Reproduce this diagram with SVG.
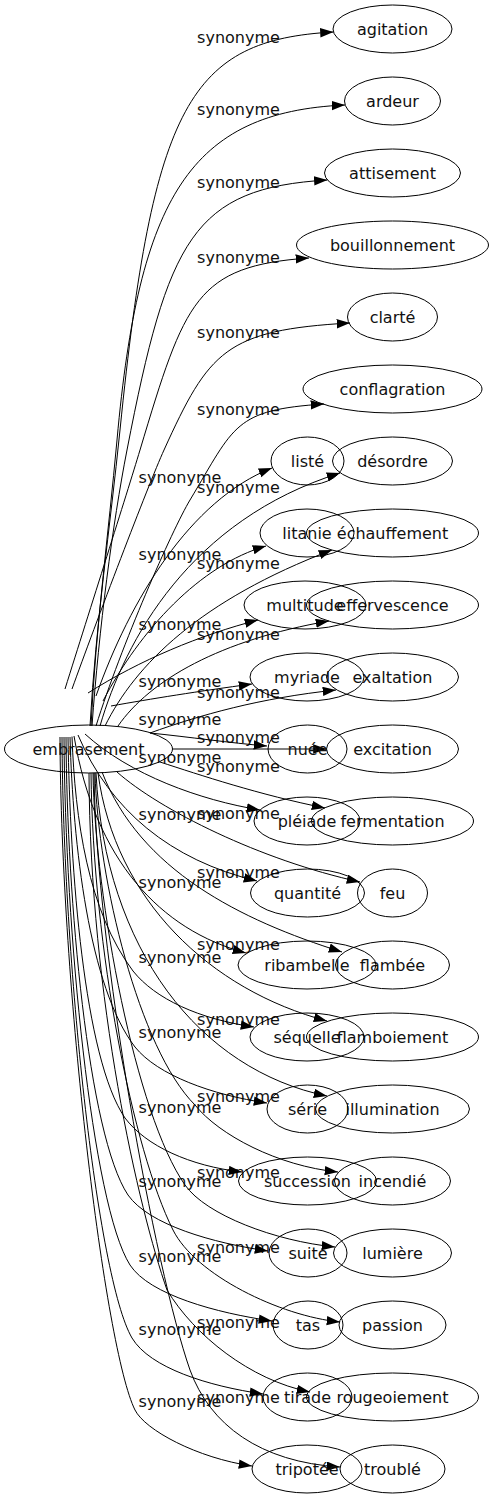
<svg xmlns="http://www.w3.org/2000/svg" width="493" height="1499" viewBox="0 0 493 1499">
<style>
text{font-family:"DejaVu Sans","Liberation Sans",sans-serif;font-size:16px;fill:#111;text-anchor:middle}
.node ellipse{fill:none;stroke:#000;stroke-width:1}
.edge path{fill:none;stroke:#000;stroke-width:1;marker-end:url(#arr)}
</style>
<defs>
<marker id="arr" viewBox="0 0 14 10" refX="13.3" refY="4.67" markerWidth="14" markerHeight="10" markerUnits="userSpaceOnUse" orient="auto"><path d="M0,0 L13.3,4.67 L0,9.33 z" fill="#000"/></marker>
</defs>
<rect width="493" height="1499" fill="#fff"/>
<g id="edges">
<g class="edge" id="e-agitation"><path d="M90,726 C96,622 110,528 120,430 C153,104 190,40 333.5,32"/><text x="238.5" y="43">synonyme</text></g>
<g class="edge" id="e-ardeur"><path d="M91,726 C96,626 108.3,535 117,440 C139,197 190,112 345,105"/><text x="238.5" y="115">synonyme</text></g>
<g class="edge" id="e-attisement"><path d="M92,726 C99,629 112.6,523.6 127,450 C168,239 193,188 327.4,180"/><text x="238.5" y="188">synonyme</text></g>
<g class="edge" id="e-bouillonnement"><path d="M65,689 C89.75,610 126.5,495 140,450 C185,300 196,266 309,258"/><text x="238.5" y="263">synonyme</text></g>
<g class="edge" id="e-clarte"><path d="M72,689 C95,625 148.25,484.65 164,450 C209,351 225.4,330 350,323"/><text x="238.5" y="338">synonyme</text></g>
<g class="edge" id="e-conflagration"><path d="M96,726 C121,646 172,530 190,500 C235,425 234,410 324,404"/><text x="238.5" y="415">synonyme</text></g>
<g class="edge" id="e-desordre"><path d="M100,726 C125,640 190,520 340,473"/><text x="238.5" y="493">synonyme</text></g>
<g class="edge" id="e-echauffement"><path d="M105,726 C135,665 200,600 332,550"/><text x="238.5" y="569">synonyme</text></g>
<g class="edge" id="e-effervescence"><path d="M118,726 C150,680 220,640 329,621"/><text x="238.5" y="640">synonyme</text></g>
<g class="edge" id="e-exaltation"><path d="M150,733 C200,715 260,698 336,690"/><text x="238.5" y="698">synonyme</text></g>
<g class="edge" id="e-excitation"><path d="M172.5,749 L326.5,749"/><text x="238.5" y="743">synonyme</text></g>
<g class="edge" id="e-fermentation"><path d="M160,762 C200,775 260,795 325,808"/><text x="238.5" y="772">synonyme</text></g>
<g class="edge" id="e-feu"><path d="M117,772 C160,810 260,860 360,882"/><text x="238.5" y="819">synonyme</text></g>
<g class="edge" id="e-flambee"><path d="M102,772 C140,870 240,920 342,952"/><text x="238.5" y="878">synonyme</text></g>
<g class="edge" id="e-flamboiement"><path d="M98,773 C115,900 210,990 327,1021"/><text x="238.5" y="950">synonyme</text></g>
<g class="edge" id="e-illumination"><path d="M96,773 C105,950 200,1070 327,1096"/><text x="238.5" y="1025">synonyme</text></g>
<g class="edge" id="e-incendie"><path d="M95,773 C98,880 139,1049 195,1105 C219,1135 278,1166 338,1172"/><text x="238.5" y="1102">synonyme</text></g>
<g class="edge" id="e-lumiere"><path d="M93,773 C95,900 136,1115 185,1185 C206,1215 275,1241 335,1247"/><text x="238.5" y="1178">synonyme</text></g>
<g class="edge" id="e-passion"><path d="M91,773 C93,950 133,1150 173,1230 C195.5,1275 280,1316 340,1322"/><text x="238.5" y="1253">synonyme</text></g>
<g class="edge" id="e-rougeoiement"><path d="M89,773 C90,1000 139,1210 167,1290 C194,1335 250,1380 310,1392"/><text x="238.5" y="1328">synonyme</text></g>
<g class="edge" id="e-trouble"><path d="M94,773 C96,950 155,1270 190,1370 C210,1425 260,1462 340,1467"/><text x="238.5" y="1403">synonyme</text></g>
<g class="edge" id="e-liste"><path d="M96,696 C130,600 190,500 272,468"/><text x="180" y="483">synonyme</text></g>
<g class="edge" id="e-litanie"><path d="M103,701 C140,630 200,565 266,546"/><text x="180" y="560">synonyme</text></g>
<g class="edge" id="e-multitude"><path d="M88,693 C140,660 200,635 258,620"/><text x="180" y="630">synonyme</text></g>
<g class="edge" id="e-myriade"><path d="M111,706 C150,699 200,691 252,684"/><text x="180" y="687">synonyme</text></g>
<g class="edge" id="e-nuee"><path d="M150,733 C190,737 230,743 267,746"/><text x="180" y="725">synonyme</text></g>
<g class="edge" id="e-pleiade"><path d="M85,734 C130,775 200,800 260,810"/><text x="180" y="763">synonyme</text></g>
<g class="edge" id="e-quantite"><path d="M78,735 C110,810 170,860 257,881"/><text x="180" y="820">synonyme</text></g>
<g class="edge" id="e-ribambelle"><path d="M74,736 C95,860 160,930 246,953"/><text x="180" y="888">synonyme</text></g>
<g class="edge" id="e-sequelle"><path d="M72,736.6 C75,819 88,911 133,971 C155.4,999 199,1019 254,1027"/><text x="180" y="963">synonyme</text></g>
<g class="edge" id="e-serie"><path d="M70,737 C73,845 89,987 135,1047 C157.4,1075 212,1095 267,1103"/><text x="180" y="1038">synonyme</text></g>
<g class="edge" id="e-succession"><path d="M68,737 C70,870 84,1058 125,1118 C146,1146 190,1166 242,1172"/><text x="180" y="1113">synonyme</text></g>
<g class="edge" id="e-suite"><path d="M66,737 C67,900 88,1135 128,1195 C149,1225 213,1243 268,1251"/><text x="180" y="1187">synonyme</text></g>
<g class="edge" id="e-tas"><path d="M64,737 C65,930 92,1205 130,1265 C149.5,1295 217,1313 272,1321"/><text x="180" y="1262">synonyme</text></g>
<g class="edge" id="e-tirade"><path d="M62,737 C63,960 97,1278 132,1338 C150,1368 208,1386 263,1394"/><text x="180" y="1335">synonyme</text></g>
<g class="edge" id="e-tripotee"><path d="M60,737 C61,990 105,1350 135,1410 C145,1430 197,1458 252,1466"/><text x="180" y="1407">synonyme</text></g>
</g>
<g class="node" id="n-embrasement"><ellipse cx="88.5" cy="749" rx="84" ry="24"/><text x="88.5" y="754.5">embrasement</text></g>
<g class="node" id="n-agitation"><ellipse cx="392.5" cy="29" rx="59.5" ry="24"/><text x="392.5" y="34.5">agitation</text></g>
<g class="node" id="n-ardeur"><ellipse cx="392.5" cy="101" rx="48" ry="24"/><text x="392.5" y="106.5">ardeur</text></g>
<g class="node" id="n-attisement"><ellipse cx="392.5" cy="173" rx="68" ry="24"/><text x="392.5" y="178.5">attisement</text></g>
<g class="node" id="n-bouillonnement"><ellipse cx="392.5" cy="245" rx="96" ry="24"/><text x="392.5" y="250.5">bouillonnement</text></g>
<g class="node" id="n-clarte"><ellipse cx="392.5" cy="317" rx="45" ry="24"/><text x="392.5" y="322.5">clarté</text></g>
<g class="node" id="n-conflagration"><ellipse cx="392.5" cy="389" rx="89.5" ry="24"/><text x="392.5" y="394.5">conflagration</text></g>
<g class="node" id="n-desordre"><ellipse cx="392.5" cy="461" rx="60" ry="24"/><text x="392.5" y="466.5">désordre</text></g>
<g class="node" id="n-echauffement"><ellipse cx="392.5" cy="533" rx="86" ry="24"/><text x="392.5" y="538.5">échauffement</text></g>
<g class="node" id="n-effervescence"><ellipse cx="392.5" cy="605" rx="86" ry="24"/><text x="392.5" y="610.5">effervescence</text></g>
<g class="node" id="n-exaltation"><ellipse cx="392.5" cy="677" rx="66" ry="24"/><text x="392.5" y="682.5">exaltation</text></g>
<g class="node" id="n-excitation"><ellipse cx="392.5" cy="749" rx="66" ry="24"/><text x="392.5" y="754.5">excitation</text></g>
<g class="node" id="n-fermentation"><ellipse cx="392.5" cy="821" rx="81" ry="24"/><text x="392.5" y="826.5">fermentation</text></g>
<g class="node" id="n-feu"><ellipse cx="392.5" cy="893" rx="35" ry="24"/><text x="392.5" y="898.5">feu</text></g>
<g class="node" id="n-flambee"><ellipse cx="392.5" cy="965" rx="57" ry="24"/><text x="392.5" y="970.5">flambée</text></g>
<g class="node" id="n-flamboiement"><ellipse cx="392.5" cy="1037" rx="86" ry="24"/><text x="392.5" y="1042.5">flamboiement</text></g>
<g class="node" id="n-illumination"><ellipse cx="392.5" cy="1109" rx="77" ry="24"/><text x="392.5" y="1114.5">illumination</text></g>
<g class="node" id="n-incendie"><ellipse cx="392.5" cy="1181" rx="58" ry="24"/><text x="392.5" y="1186.5">incendié</text></g>
<g class="node" id="n-lumiere"><ellipse cx="392.5" cy="1253" rx="59" ry="24"/><text x="392.5" y="1258.5">lumière</text></g>
<g class="node" id="n-passion"><ellipse cx="392.5" cy="1325" rx="53.5" ry="24"/><text x="392.5" y="1330.5">passion</text></g>
<g class="node" id="n-rougeoiement"><ellipse cx="392.5" cy="1397" rx="86" ry="24"/><text x="392.5" y="1402.5">rougeoiement</text></g>
<g class="node" id="n-trouble"><ellipse cx="392.5" cy="1469" rx="52.5" ry="24"/><text x="392.5" y="1474.5">troublé</text></g>
<g class="node" id="n-liste"><ellipse cx="307.5" cy="461" rx="36.5" ry="24"/><text x="307.5" y="466.5">listé</text></g>
<g class="node" id="n-litanie"><ellipse cx="307" cy="533" rx="47" ry="24"/><text x="307" y="538.5">litanie</text></g>
<g class="node" id="n-multitude"><ellipse cx="305" cy="605" rx="61" ry="24"/><text x="305" y="610.5">multitude</text></g>
<g class="node" id="n-myriade"><ellipse cx="307" cy="677" rx="57" ry="24"/><text x="307" y="682.5">myriade</text></g>
<g class="node" id="n-nuee"><ellipse cx="307.5" cy="749" rx="39.5" ry="24"/><text x="307.5" y="754.5">nuée</text></g>
<g class="node" id="n-pleiade"><ellipse cx="307" cy="821" rx="53" ry="24"/><text x="307" y="826.5">pléiade</text></g>
<g class="node" id="n-quantite"><ellipse cx="307.5" cy="893" rx="57" ry="24"/><text x="307.5" y="898.5">quantité</text></g>
<g class="node" id="n-ribambelle"><ellipse cx="307" cy="965" rx="69" ry="24"/><text x="307" y="970.5">ribambelle</text></g>
<g class="node" id="n-sequelle"><ellipse cx="307" cy="1037" rx="57" ry="24"/><text x="307" y="1042.5">séquelle</text></g>
<g class="node" id="n-serie"><ellipse cx="307.5" cy="1109" rx="40.5" ry="24"/><text x="307.5" y="1114.5">série</text></g>
<g class="node" id="n-succession"><ellipse cx="307.5" cy="1181" rx="69" ry="24"/><text x="307.5" y="1186.5">succession</text></g>
<g class="node" id="n-suite"><ellipse cx="308" cy="1253" rx="39" ry="24"/><text x="308" y="1258.5">suite</text></g>
<g class="node" id="n-tas"><ellipse cx="308" cy="1325" rx="35" ry="24"/><text x="308" y="1330.5">tas</text></g>
<g class="node" id="n-tirade"><ellipse cx="307.5" cy="1397" rx="44.5" ry="24"/><text x="307.5" y="1402.5">tirade</text></g>
<g class="node" id="n-tripotee"><ellipse cx="307" cy="1469" rx="55" ry="24"/><text x="307" y="1474.5">tripotée</text></g>
</svg>
